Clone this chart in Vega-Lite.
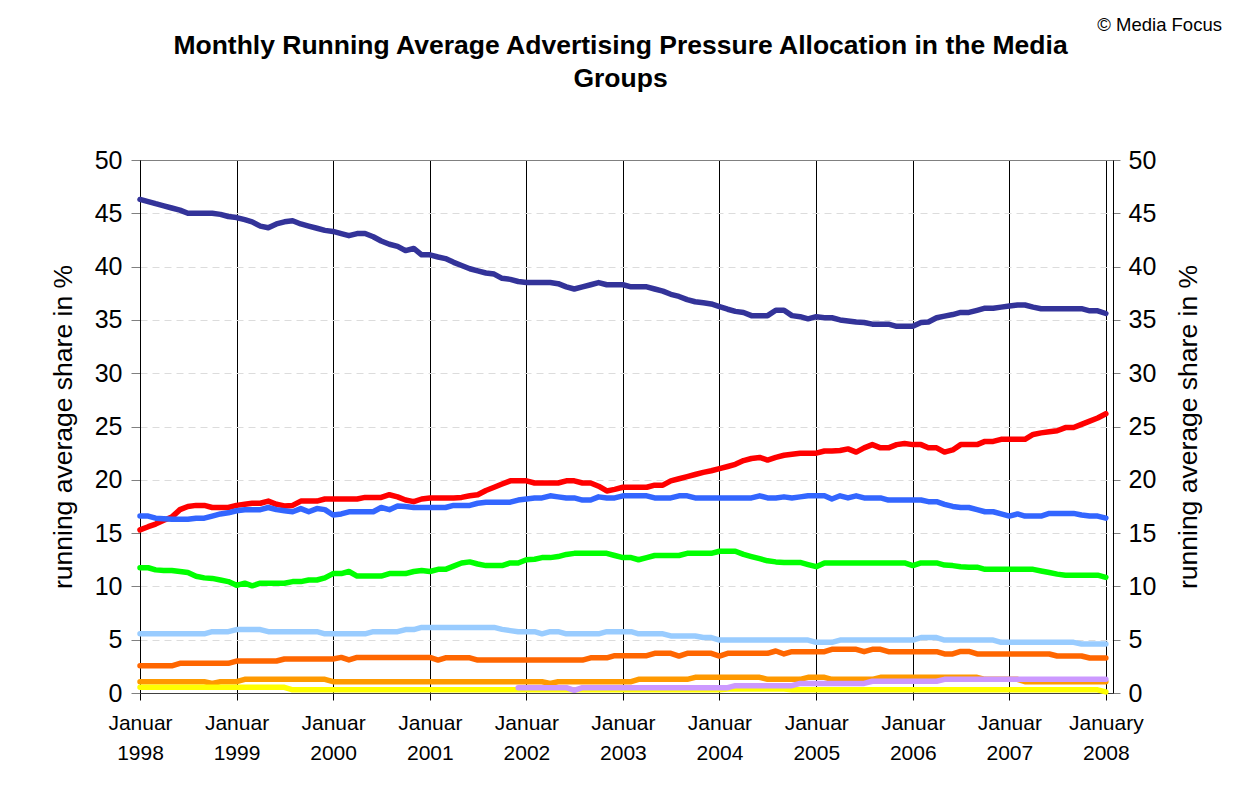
{
"$schema": "https://vega.github.io/schema/vega-lite/v6.json",
"width": 973, "height": 533,
"autosize": {"type": "none"},
"padding": {"left": 140, "top": 160, "right": 121, "bottom": 101},
"background": "white",
"config": {"font": "Liberation Sans", "view": {"stroke": "#808080", "strokeWidth": 1}},
"title": {"text": ["Monthly Running Average Advertising Pressure Allocation in the Media", "Groups"], "fontSize": 26.5, "fontWeight": "bold", "font": "Liberation Sans", "color": "black", "anchor": "middle", "frame": "group", "offset": -76, "lineHeight": 33, "dx": -6},
"data": {"values": [
{"t":"1998-01-01","a":46.3,"b":15.3,"c":16.6,"d":11.75,"e":5.55,"f":2.55,"g":1.06,"h":0.53},
{"t":"1998-02-01","a":46.1,"b":15.6,"c":16.6,"d":11.75,"e":5.55,"f":2.55,"g":1.06,"h":0.53},
{"t":"1998-03-01","a":45.9,"b":15.85,"c":16.4,"d":11.55,"e":5.55,"f":2.55,"g":1.06,"h":0.53},
{"t":"1998-04-01","a":45.7,"b":16.2,"c":16.35,"d":11.5,"e":5.55,"f":2.55,"g":1.06,"h":0.53},
{"t":"1998-05-01","a":45.5,"b":16.5,"c":16.3,"d":11.5,"e":5.55,"f":2.55,"g":1.06,"h":0.53},
{"t":"1998-06-01","a":45.3,"b":17.2,"c":16.3,"d":11.4,"e":5.55,"f":2.78,"g":1.06,"h":0.53},
{"t":"1998-07-01","a":45.0,"b":17.5,"c":16.3,"d":11.3,"e":5.55,"f":2.78,"g":1.06,"h":0.53},
{"t":"1998-08-01","a":45.0,"b":17.6,"c":16.4,"d":10.95,"e":5.55,"f":2.78,"g":1.06,"h":0.53},
{"t":"1998-09-01","a":45.0,"b":17.6,"c":16.4,"d":10.8,"e":5.55,"f":2.78,"g":1.06,"h":0.53},
{"t":"1998-10-01","a":45.0,"b":17.4,"c":16.6,"d":10.75,"e":5.75,"f":2.78,"g":0.9,"h":0.53},
{"t":"1998-11-01","a":44.9,"b":17.4,"c":16.8,"d":10.6,"e":5.75,"f":2.78,"g":1.06,"h":0.53},
{"t":"1998-12-01","a":44.7,"b":17.4,"c":16.9,"d":10.45,"e":5.75,"f":2.78,"g":1.06,"h":0.53},
{"t":"1999-01-01","a":44.6,"b":17.6,"c":17.1,"d":10.1,"e":5.95,"f":3.0,"g":1.06,"h":0.53},
{"t":"1999-02-01","a":44.4,"b":17.7,"c":17.2,"d":10.3,"e":5.95,"f":3.0,"g":1.28,"h":0.53},
{"t":"1999-03-01","a":44.2,"b":17.8,"c":17.2,"d":10.05,"e":5.95,"f":3.0,"g":1.28,"h":0.53},
{"t":"1999-04-01","a":43.8,"b":17.8,"c":17.2,"d":10.3,"e":5.95,"f":3.0,"g":1.28,"h":0.53},
{"t":"1999-05-01","a":43.65,"b":18.0,"c":17.4,"d":10.3,"e":5.75,"f":3.0,"g":1.28,"h":0.53},
{"t":"1999-06-01","a":44.0,"b":17.7,"c":17.2,"d":10.3,"e":5.75,"f":3.0,"g":1.28,"h":0.53},
{"t":"1999-07-01","a":44.2,"b":17.55,"c":17.1,"d":10.3,"e":5.75,"f":3.19,"g":1.28,"h":0.53},
{"t":"1999-08-01","a":44.3,"b":17.6,"c":17.0,"d":10.45,"e":5.75,"f":3.19,"g":1.28,"h":0.3},
{"t":"1999-09-01","a":44.0,"b":18.0,"c":17.3,"d":10.45,"e":5.75,"f":3.19,"g":1.28,"h":0.3},
{"t":"1999-10-01","a":43.8,"b":18.0,"c":17.0,"d":10.6,"e":5.75,"f":3.19,"g":1.28,"h":0.3},
{"t":"1999-11-01","a":43.6,"b":18.0,"c":17.3,"d":10.6,"e":5.75,"f":3.19,"g":1.28,"h":0.3},
{"t":"1999-12-01","a":43.4,"b":18.2,"c":17.2,"d":10.8,"e":5.55,"f":3.19,"g":1.28,"h":0.3},
{"t":"2000-01-01","a":43.3,"b":18.2,"c":16.7,"d":11.2,"e":5.55,"f":3.19,"g":1.06,"h":0.3},
{"t":"2000-02-01","a":43.1,"b":18.2,"c":16.8,"d":11.2,"e":5.55,"f":3.34,"g":1.06,"h":0.3},
{"t":"2000-03-01","a":42.9,"b":18.2,"c":17.0,"d":11.4,"e":5.55,"f":3.1,"g":1.06,"h":0.3},
{"t":"2000-04-01","a":43.1,"b":18.2,"c":17.0,"d":10.97,"e":5.55,"f":3.34,"g":1.06,"h":0.3},
{"t":"2000-05-01","a":43.1,"b":18.35,"c":17.0,"d":10.97,"e":5.55,"f":3.34,"g":1.06,"h":0.3},
{"t":"2000-06-01","a":42.8,"b":18.35,"c":17.0,"d":10.97,"e":5.75,"f":3.34,"g":1.06,"h":0.3},
{"t":"2000-07-01","a":42.4,"b":18.35,"c":17.4,"d":10.97,"e":5.75,"f":3.34,"g":1.06,"h":0.3},
{"t":"2000-08-01","a":42.1,"b":18.6,"c":17.2,"d":11.2,"e":5.75,"f":3.34,"g":1.06,"h":0.3},
{"t":"2000-09-01","a":41.9,"b":18.4,"c":17.55,"d":11.2,"e":5.75,"f":3.34,"g":1.06,"h":0.3},
{"t":"2000-10-01","a":41.5,"b":18.1,"c":17.5,"d":11.2,"e":5.95,"f":3.34,"g":1.06,"h":0.3},
{"t":"2000-11-01","a":41.7,"b":17.95,"c":17.4,"d":11.4,"e":5.95,"f":3.34,"g":1.06,"h":0.3},
{"t":"2000-12-01","a":41.1,"b":18.2,"c":17.4,"d":11.5,"e":6.15,"f":3.34,"g":1.06,"h":0.3},
{"t":"2001-01-01","a":41.1,"b":18.3,"c":17.4,"d":11.4,"e":6.15,"f":3.34,"g":1.06,"h":0.3},
{"t":"2001-02-01","a":40.9,"b":18.3,"c":17.4,"d":11.6,"e":6.15,"f":3.09,"g":1.06,"h":0.3},
{"t":"2001-03-01","a":40.75,"b":18.3,"c":17.4,"d":11.6,"e":6.15,"f":3.3,"g":1.06,"h":0.3},
{"t":"2001-04-01","a":40.4,"b":18.3,"c":17.6,"d":11.9,"e":6.15,"f":3.3,"g":1.06,"h":0.3},
{"t":"2001-05-01","a":40.1,"b":18.35,"c":17.6,"d":12.2,"e":6.15,"f":3.3,"g":1.06,"h":0.3},
{"t":"2001-06-01","a":39.8,"b":18.5,"c":17.6,"d":12.3,"e":6.15,"f":3.3,"g":1.06,"h":0.3},
{"t":"2001-07-01","a":39.6,"b":18.6,"c":17.8,"d":12.1,"e":6.15,"f":3.09,"g":1.06,"h":0.3},
{"t":"2001-08-01","a":39.4,"b":19.0,"c":17.9,"d":11.95,"e":6.15,"f":3.09,"g":1.06,"h":0.3},
{"t":"2001-09-01","a":39.3,"b":19.3,"c":17.9,"d":11.95,"e":6.15,"f":3.09,"g":1.06,"h":0.3},
{"t":"2001-10-01","a":38.9,"b":19.6,"c":17.9,"d":11.95,"e":5.97,"f":3.09,"g":1.06,"h":0.3},
{"t":"2001-11-01","a":38.8,"b":19.9,"c":17.9,"d":12.2,"e":5.85,"f":3.09,"g":1.06,"h":0.3},
{"t":"2001-12-01","a":38.6,"b":19.9,"c":18.1,"d":12.2,"e":5.75,"f":3.09,"g":1.06,"h":0.3,"i":0.5},
{"t":"2002-01-01","a":38.5,"b":19.9,"c":18.2,"d":12.5,"e":5.75,"f":3.09,"g":1.06,"h":0.3,"i":0.5},
{"t":"2002-02-01","a":38.5,"b":19.7,"c":18.3,"d":12.55,"e":5.75,"f":3.09,"g":1.06,"h":0.3,"i":0.5},
{"t":"2002-03-01","a":38.5,"b":19.7,"c":18.3,"d":12.7,"e":5.55,"f":3.09,"g":1.06,"h":0.3,"i":0.5},
{"t":"2002-04-01","a":38.5,"b":19.7,"c":18.5,"d":12.7,"e":5.75,"f":3.09,"g":0.9,"h":0.3,"i":0.5},
{"t":"2002-05-01","a":38.4,"b":19.7,"c":18.4,"d":12.8,"e":5.75,"f":3.09,"g":1.06,"h":0.3,"i":0.5},
{"t":"2002-06-01","a":38.1,"b":19.9,"c":18.3,"d":13.0,"e":5.55,"f":3.09,"g":1.06,"h":0.3,"i":0.5},
{"t":"2002-07-01","a":37.9,"b":19.9,"c":18.3,"d":13.1,"e":5.55,"f":3.09,"g":1.06,"h":0.3,"i":0.25},
{"t":"2002-08-01","a":38.1,"b":19.7,"c":18.1,"d":13.1,"e":5.55,"f":3.09,"g":1.06,"h":0.3,"i":0.5},
{"t":"2002-09-01","a":38.3,"b":19.7,"c":18.1,"d":13.1,"e":5.55,"f":3.3,"g":1.06,"h":0.3,"i":0.5},
{"t":"2002-10-01","a":38.5,"b":19.4,"c":18.4,"d":13.1,"e":5.55,"f":3.3,"g":1.06,"h":0.3,"i":0.5},
{"t":"2002-11-01","a":38.3,"b":18.95,"c":18.3,"d":13.1,"e":5.75,"f":3.3,"g":1.06,"h":0.3,"i":0.5},
{"t":"2002-12-01","a":38.3,"b":19.1,"c":18.3,"d":12.9,"e":5.75,"f":3.5,"g":1.06,"h":0.3,"i":0.5},
{"t":"2003-01-01","a":38.3,"b":19.3,"c":18.5,"d":12.7,"e":5.75,"f":3.5,"g":1.06,"h":0.3,"i":0.5},
{"t":"2003-02-01","a":38.1,"b":19.3,"c":18.5,"d":12.7,"e":5.75,"f":3.5,"g":1.06,"h":0.3,"i":0.5},
{"t":"2003-03-01","a":38.1,"b":19.3,"c":18.5,"d":12.5,"e":5.55,"f":3.5,"g":1.28,"h":0.3,"i":0.5},
{"t":"2003-04-01","a":38.1,"b":19.3,"c":18.5,"d":12.7,"e":5.55,"f":3.5,"g":1.28,"h":0.3,"i":0.5},
{"t":"2003-05-01","a":37.9,"b":19.5,"c":18.3,"d":12.9,"e":5.55,"f":3.72,"g":1.28,"h":0.3,"i":0.5},
{"t":"2003-06-01","a":37.7,"b":19.5,"c":18.3,"d":12.9,"e":5.55,"f":3.72,"g":1.28,"h":0.3,"i":0.5},
{"t":"2003-07-01","a":37.4,"b":19.9,"c":18.3,"d":12.9,"e":5.35,"f":3.72,"g":1.28,"h":0.3,"i":0.5},
{"t":"2003-08-01","a":37.2,"b":20.1,"c":18.5,"d":12.9,"e":5.35,"f":3.47,"g":1.28,"h":0.3,"i":0.5},
{"t":"2003-09-01","a":36.9,"b":20.3,"c":18.5,"d":13.1,"e":5.35,"f":3.72,"g":1.28,"h":0.3,"i":0.5},
{"t":"2003-10-01","a":36.7,"b":20.5,"c":18.3,"d":13.1,"e":5.35,"f":3.72,"g":1.47,"h":0.3,"i":0.5},
{"t":"2003-11-01","a":36.6,"b":20.7,"c":18.3,"d":13.1,"e":5.2,"f":3.72,"g":1.47,"h":0.3,"i":0.5},
{"t":"2003-12-01","a":36.5,"b":20.85,"c":18.3,"d":13.1,"e":5.2,"f":3.72,"g":1.47,"h":0.3,"i":0.5},
{"t":"2004-01-01","a":36.25,"b":21.05,"c":18.3,"d":13.3,"e":4.97,"f":3.47,"g":1.47,"h":0.3,"i":0.5},
{"t":"2004-02-01","a":36.0,"b":21.25,"c":18.3,"d":13.3,"e":4.97,"f":3.72,"g":1.47,"h":0.38,"i":0.5},
{"t":"2004-03-01","a":35.8,"b":21.45,"c":18.3,"d":13.3,"e":4.97,"f":3.72,"g":1.47,"h":0.38,"i":0.69},
{"t":"2004-04-01","a":35.7,"b":21.8,"c":18.3,"d":13.0,"e":4.97,"f":3.72,"g":1.47,"h":0.38,"i":0.69},
{"t":"2004-05-01","a":35.4,"b":22.0,"c":18.3,"d":12.8,"e":4.97,"f":3.72,"g":1.47,"h":0.38,"i":0.69},
{"t":"2004-06-01","a":35.4,"b":22.1,"c":18.5,"d":12.6,"e":4.97,"f":3.72,"g":1.47,"h":0.38,"i":0.69},
{"t":"2004-07-01","a":35.4,"b":21.85,"c":18.3,"d":12.4,"e":4.97,"f":3.72,"g":1.28,"h":0.38,"i":0.69},
{"t":"2004-08-01","a":35.9,"b":22.1,"c":18.3,"d":12.3,"e":4.97,"f":3.94,"g":1.28,"h":0.38,"i":0.69},
{"t":"2004-09-01","a":35.9,"b":22.3,"c":18.4,"d":12.25,"e":4.97,"f":3.66,"g":1.28,"h":0.38,"i":0.69},
{"t":"2004-10-01","a":35.4,"b":22.4,"c":18.3,"d":12.25,"e":4.97,"f":3.88,"g":1.28,"h":0.3,"i":0.69},
{"t":"2004-11-01","a":35.3,"b":22.5,"c":18.4,"d":12.25,"e":4.97,"f":3.88,"g":1.28,"h":0.3,"i":0.9},
{"t":"2004-12-01","a":35.1,"b":22.5,"c":18.5,"d":12.05,"e":4.97,"f":3.88,"g":1.47,"h":0.3,"i":0.9},
{"t":"2005-01-01","a":35.3,"b":22.5,"c":18.5,"d":11.85,"e":4.75,"f":3.88,"g":1.47,"h":0.3,"i":0.9},
{"t":"2005-02-01","a":35.2,"b":22.7,"c":18.5,"d":12.2,"e":4.75,"f":3.88,"g":1.47,"h":0.3,"i":0.9},
{"t":"2005-03-01","a":35.2,"b":22.7,"c":18.2,"d":12.2,"e":4.75,"f":4.1,"g":1.28,"h":0.3,"i":0.9},
{"t":"2005-04-01","a":35.0,"b":22.75,"c":18.5,"d":12.2,"e":4.97,"f":4.1,"g":1.28,"h":0.3,"i":0.9},
{"t":"2005-05-01","a":34.9,"b":22.9,"c":18.3,"d":12.2,"e":4.97,"f":4.1,"g":1.28,"h":0.3,"i":0.9},
{"t":"2005-06-01","a":34.8,"b":22.6,"c":18.5,"d":12.2,"e":4.97,"f":4.1,"g":1.28,"h":0.3,"i":0.9},
{"t":"2005-07-01","a":34.75,"b":23.0,"c":18.3,"d":12.2,"e":4.97,"f":3.88,"g":1.28,"h":0.3,"i":0.9},
{"t":"2005-08-01","a":34.6,"b":23.3,"c":18.3,"d":12.2,"e":4.97,"f":4.1,"g":1.28,"h":0.3,"i":1.1},
{"t":"2005-09-01","a":34.6,"b":23.0,"c":18.3,"d":12.2,"e":4.97,"f":4.1,"g":1.47,"h":0.3,"i":1.1},
{"t":"2005-10-01","a":34.6,"b":23.0,"c":18.1,"d":12.2,"e":4.97,"f":3.88,"g":1.47,"h":0.3,"i":1.1},
{"t":"2005-11-01","a":34.4,"b":23.3,"c":18.1,"d":12.2,"e":4.97,"f":3.88,"g":1.47,"h":0.3,"i":1.1},
{"t":"2005-12-01","a":34.4,"b":23.4,"c":18.1,"d":12.2,"e":4.97,"f":3.88,"g":1.47,"h":0.3,"i":1.1},
{"t":"2006-01-01","a":34.4,"b":23.3,"c":18.1,"d":11.95,"e":4.97,"f":3.88,"g":1.47,"h":0.3,"i":1.1},
{"t":"2006-02-01","a":34.75,"b":23.3,"c":18.1,"d":12.2,"e":5.2,"f":3.88,"g":1.47,"h":0.3,"i":1.1},
{"t":"2006-03-01","a":34.8,"b":23.0,"c":17.95,"d":12.2,"e":5.2,"f":3.88,"g":1.47,"h":0.3,"i":1.1},
{"t":"2006-04-01","a":35.2,"b":23.0,"c":17.95,"d":12.2,"e":5.2,"f":3.88,"g":1.47,"h":0.3,"i":1.1},
{"t":"2006-05-01","a":35.35,"b":22.6,"c":17.7,"d":12.0,"e":4.97,"f":3.66,"g":1.47,"h":0.3,"i":1.28},
{"t":"2006-06-01","a":35.5,"b":22.8,"c":17.5,"d":11.95,"e":4.97,"f":3.66,"g":1.47,"h":0.3,"i":1.28},
{"t":"2006-07-01","a":35.7,"b":23.3,"c":17.4,"d":11.85,"e":4.97,"f":3.9,"g":1.47,"h":0.3,"i":1.28},
{"t":"2006-08-01","a":35.7,"b":23.3,"c":17.4,"d":11.8,"e":4.97,"f":3.9,"g":1.47,"h":0.3,"i":1.28},
{"t":"2006-09-01","a":35.9,"b":23.3,"c":17.2,"d":11.8,"e":4.97,"f":3.66,"g":1.47,"h":0.3,"i":1.28},
{"t":"2006-10-01","a":36.1,"b":23.6,"c":17.0,"d":11.6,"e":4.97,"f":3.66,"g":1.28,"h":0.3,"i":1.28},
{"t":"2006-11-01","a":36.1,"b":23.6,"c":17.0,"d":11.6,"e":4.97,"f":3.66,"g":1.28,"h":0.3,"i":1.28},
{"t":"2006-12-01","a":36.2,"b":23.8,"c":16.8,"d":11.6,"e":4.75,"f":3.66,"g":1.28,"h":0.3,"i":1.28},
{"t":"2007-01-01","a":36.3,"b":23.8,"c":16.6,"d":11.6,"e":4.75,"f":3.66,"g":1.28,"h":0.3,"i":1.28},
{"t":"2007-02-01","a":36.4,"b":23.8,"c":16.8,"d":11.6,"e":4.75,"f":3.66,"g":1.28,"h":0.3,"i":1.28},
{"t":"2007-03-01","a":36.4,"b":23.8,"c":16.6,"d":11.6,"e":4.75,"f":3.66,"g":1.06,"h":0.3,"i":1.28},
{"t":"2007-04-01","a":36.2,"b":24.25,"c":16.6,"d":11.6,"e":4.75,"f":3.66,"g":1.06,"h":0.3,"i":1.28},
{"t":"2007-05-01","a":36.05,"b":24.4,"c":16.6,"d":11.45,"e":4.75,"f":3.66,"g":1.06,"h":0.3,"i":1.28},
{"t":"2007-06-01","a":36.05,"b":24.5,"c":16.85,"d":11.3,"e":4.75,"f":3.66,"g":1.06,"h":0.3,"i":1.28},
{"t":"2007-07-01","a":36.05,"b":24.6,"c":16.85,"d":11.15,"e":4.75,"f":3.47,"g":1.06,"h":0.3,"i":1.28},
{"t":"2007-08-01","a":36.05,"b":24.9,"c":16.85,"d":11.05,"e":4.75,"f":3.47,"g":1.06,"h":0.3,"i":1.28},
{"t":"2007-09-01","a":36.05,"b":24.9,"c":16.85,"d":11.05,"e":4.75,"f":3.47,"g":1.06,"h":0.3,"i":1.28},
{"t":"2007-10-01","a":36.05,"b":25.2,"c":16.7,"d":11.05,"e":4.6,"f":3.47,"g":1.06,"h":0.3,"i":1.28},
{"t":"2007-11-01","a":35.85,"b":25.5,"c":16.6,"d":11.05,"e":4.6,"f":3.28,"g":1.06,"h":0.3,"i":1.28},
{"t":"2007-12-01","a":35.85,"b":25.8,"c":16.6,"d":11.05,"e":4.6,"f":3.28,"g":1.06,"h":0.3,"i":1.28},
{"t":"2008-01-01","a":35.6,"b":26.2,"c":16.4,"d":10.85,"e":4.6,"f":3.28,"g":1.06,"h":0.1,"i":1.28}
]},
"layer": [
{
"transform": [{"fold": ["a","b","c","d","e","f","g","h","i"], "as": ["s","v"]}, {"filter": "isValid(datum.v)"}],
"mark": {"type": "line", "strokeWidth": 5.5, "strokeJoin": "round", "strokeCap": "round"},
"encoding": {
"x": {"field": "t", "type": "temporal",
"scale": {"type": "utc", "domain": [{"year": 1998, "month": 1, "date": 1, "utc": true}, {"year": 2008, "month": 1, "date": 28, "utc": true}]},
"axis": {"orient": "bottom", "tickCount": {"interval": "year", "step": 1}, "grid": true, "gridColor": "black", "gridWidth": 1, "gridOpacity": 1,
"domainColor": "#404040", "domainWidth": 1, "tickColor": "black", "tickSize": 7, "tickWidth": 1,
"labelFont": "Liberation Sans", "labelFontSize": 21, "labelColor": "black", "labelPadding": 12, "labelLineHeight": 30,
"labelBaseline": "top", "labelAlign": "center", "labelDx": 5, "labelOverlap": false, "labelFlush": false, "labelBound": false,
"labelExpr": "utcyear(datum.value) == 2008 ? ['January', '2008'] : ['Januar', '' + utcyear(datum.value)]",
"title": null}},
"y": {"field": "v", "type": "quantitative",
"scale": {"domain": [0, 50], "nice": false, "zero": true},
"axis": {"orient": "left", "values": [0,5,10,15,20,25,30,35,40,45,50], "grid": true,
"gridColor": {"condition": {"test": "datum.value == 50", "value": "#808080"}, "value": "#dcdcdc"},
"gridDash": {"condition": {"test": "datum.value == 50", "value": []}, "value": [7,5]}, "gridWidth": 1,
"domainColor": "black", "domainWidth": 1, "tickColor": "#808080", "tickSize": 9, "tickWidth": 1,
"labelFont": "Liberation Sans", "labelFontSize": 25, "labelColor": "black", "labelPadding": 9,
"title": "running average share in %", "titleFont": "Liberation Sans", "titleFontSize": 26.5, "titleFontWeight": "normal", "titleColor": "black", "titlePadding": 17}},
"color": {"field": "s", "type": "nominal", "legend": null,
"scale": {"domain": ["a","b","c","d","e","f","g","h","i"], "range": ["#333399","#FF0000","#3366FF","#00FF00","#99CCFF","#FF6600","#FF9900","#FFFF00","#CC99FF"]}}
}
},
{
"transform": [{"fold": ["a"], "as": ["s","v"]}],
"mark": {"type": "line", "opacity": 0},
"encoding": {
"x": {"field": "t", "type": "temporal"},
"y": {"field": "v", "type": "quantitative",
"axis": {"orient": "right", "values": [0,5,10,15,20,25,30,35,40,45,50], "grid": false,
"domainColor": "black", "domainWidth": 1, "tickColor": "#808080", "tickSize": 7, "tickWidth": 1,
"labelFont": "Liberation Sans", "labelFontSize": 25, "labelColor": "black", "labelPadding": 8,
"title": "running average share in %", "titleFont": "Liberation Sans", "titleFontSize": 26.5, "titleFontWeight": "normal", "titleColor": "black", "titleAngle": 270, "titleBaseline": "top", "titlePadding": 20}}
}
},
{
"data": {"values": [{"label": "© Media Focus"}]},
"mark": {"type": "text", "align": "right", "baseline": "middle", "fontSize": 18.5, "font": "Liberation Sans", "color": "black", "clip": false},
"encoding": {
"x": {"datum": {"year": 2009, "month": 3, "date": 15, "utc": true}, "type": "temporal"},
"y": {"datum": 62.66, "type": "quantitative", "axis": null},
"text": {"field": "label", "type": "nominal"}
}
}
],
"resolve": {"axis": {"y": "independent"}}
}
